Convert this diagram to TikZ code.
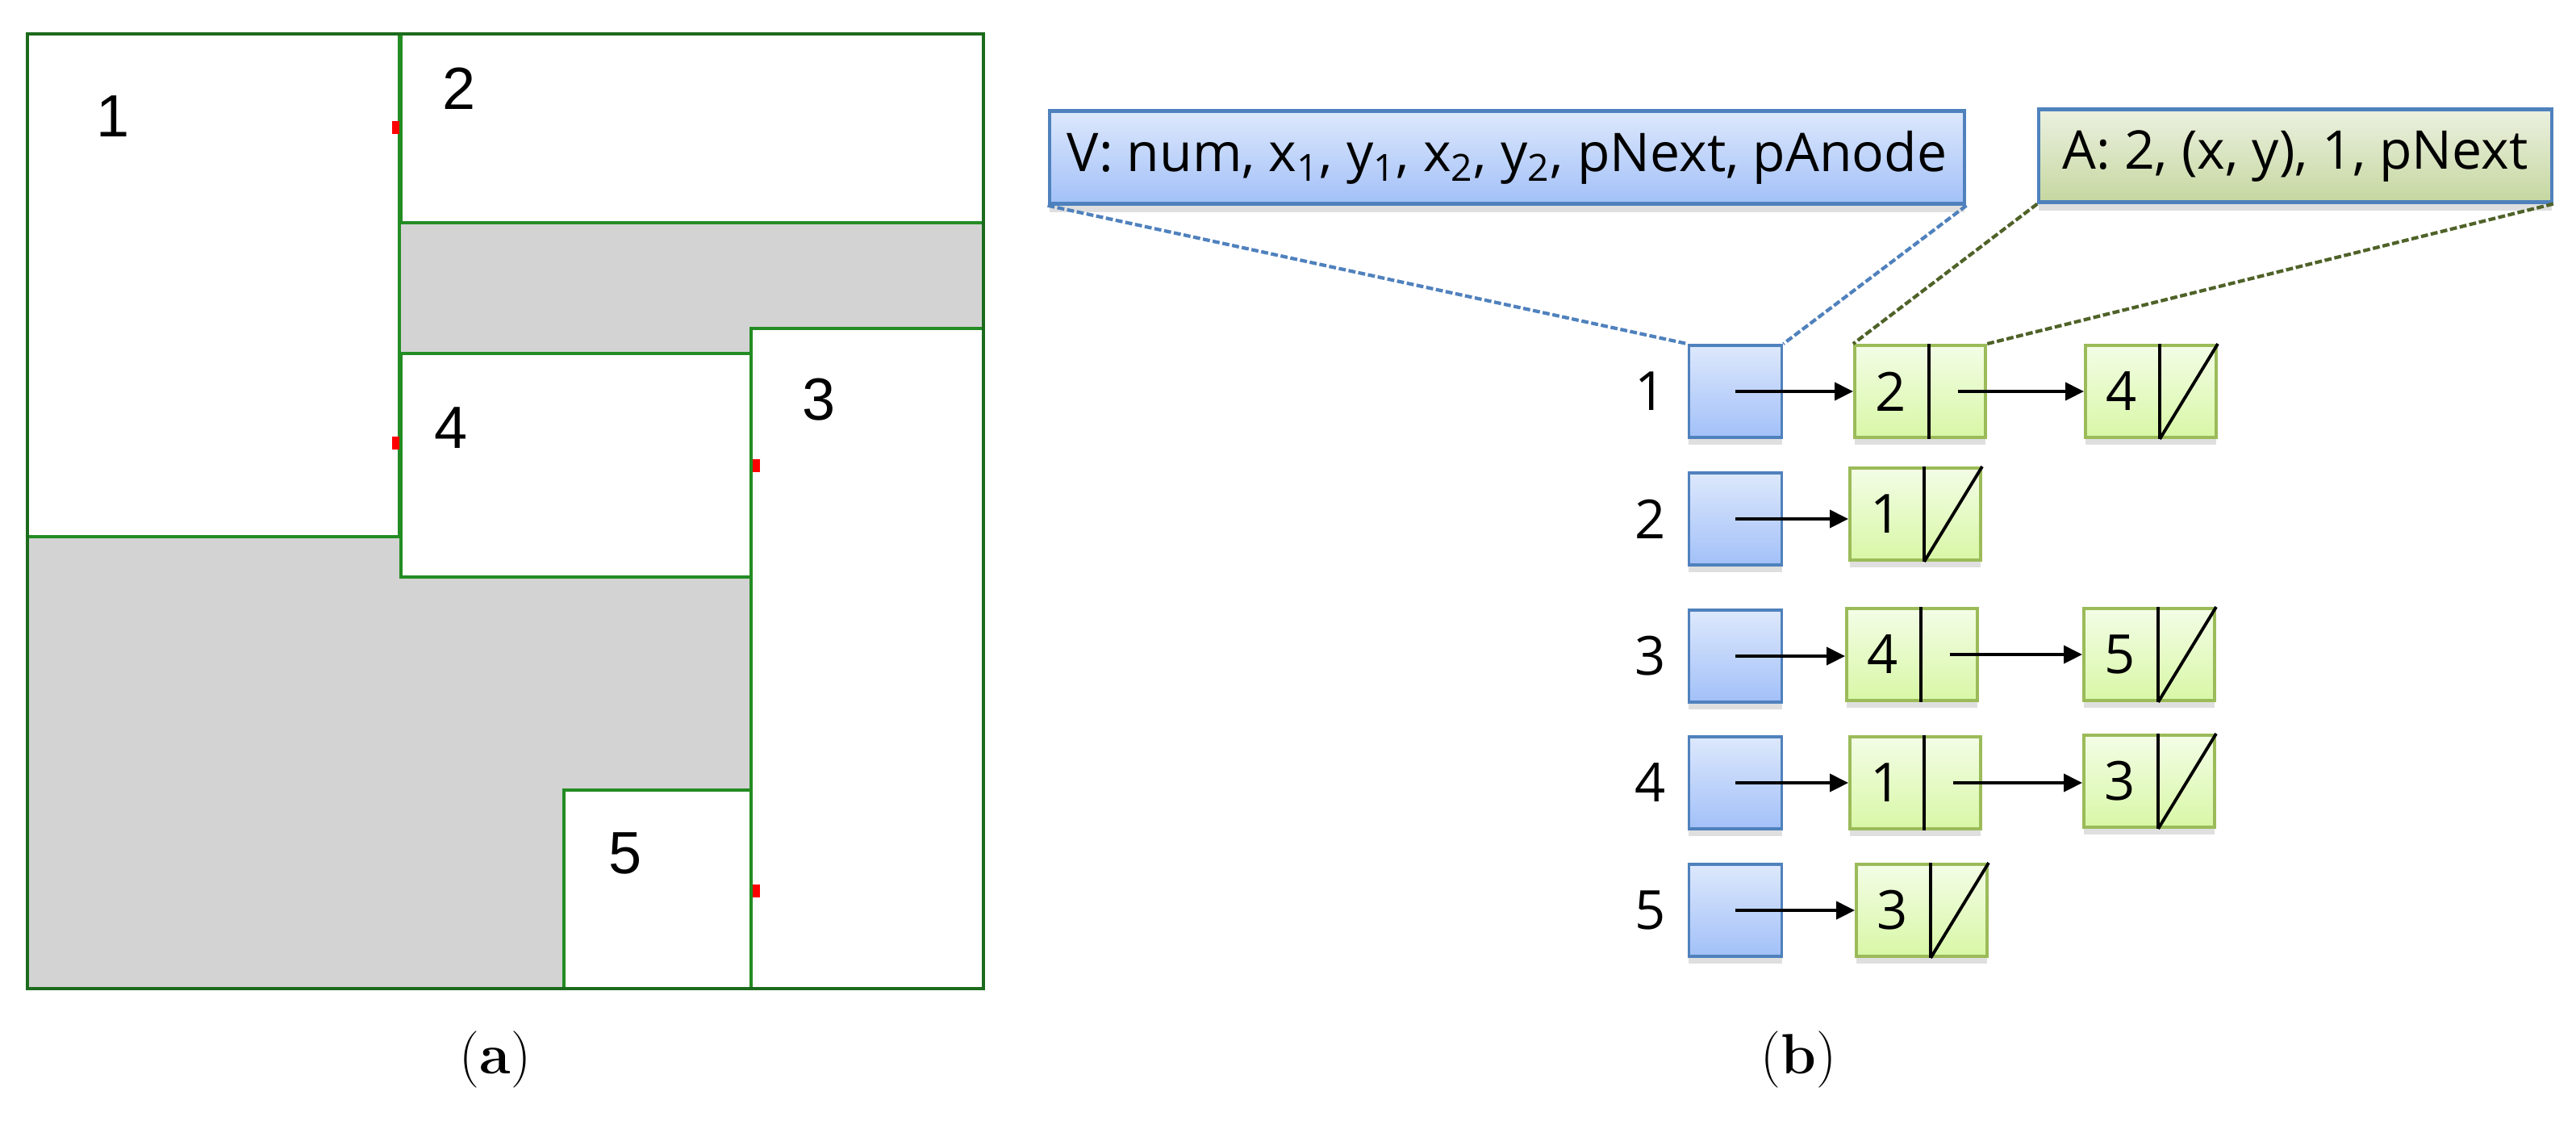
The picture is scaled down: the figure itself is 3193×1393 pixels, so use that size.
\documentclass[tikz,border=0pt]{standalone}
\usepackage{fontspec}
\usetikzlibrary{arrows.meta,positioning,calc,shadows}
\newfontfamily\roomfont{Liberation Sans}
\newfontfamily\listfont{Open Sans}
\definecolor{roomGreen}{HTML}{238C23}
\definecolor{wallGreen}{HTML}{1C6A1C}
\definecolor{voidGray}{HTML}{D3D3D3}
\definecolor{vBlue}{HTML}{4F81BD}
\definecolor{vTop}{HTML}{DDE8FC}
\definecolor{vBot}{HTML}{A2C0F8}
\definecolor{aEdge}{HTML}{9BBB59}
\definecolor{aTop}{HTML}{F3FDE6}
\definecolor{aBot}{HTML}{D8F7A6}
\definecolor{hTop}{HTML}{EBF1E0}
\definecolor{hBot}{HTML}{C6D7A0}
\definecolor{hDash}{HTML}{4F6228}

\begin{document}
\begin{tikzpicture}[x=0.01cm,y=-0.01cm,
  room/.style={draw=roomGreen,line width=1.1pt,fill=white},
  roomnum/.style={font=\roomfont\fontsize{21}{21}\selectfont,inner sep=0pt},
  vnum/.style={font=\listfont\fontsize{19}{19}\selectfont,inner sep=0pt},
  vbox/.style={draw=vBlue,line width=1.1pt,top color=vTop,bottom color=vBot,
    minimum width=1.15cm,minimum height=1.14cm,inner sep=0pt,
    drop shadow={shadow xshift=0pt,shadow yshift=-2.5pt,opacity=0.25}},
  adjbox/.style={draw=aEdge,line width=1.1pt,top color=aTop,bottom color=aBot,
    minimum width=1.62cm,minimum height=1.14cm,inner sep=0pt,
    drop shadow={shadow xshift=0pt,shadow yshift=-2.5pt,opacity=0.25}},
  adjnum/.style={vnum},
  divider/.style={black,line width=1.1pt},
  link/.style={black,line width=1.1pt,-{Triangle[length=0.23cm,width=0.22cm]}},
  head/.style={draw=vBlue,line width=1.2pt,inner sep=0pt,minimum height=1.15cm,
    font=\listfont\fontsize{18.8}{18.8}\selectfont,
    drop shadow={shadow xshift=0pt,shadow yshift=-3pt,opacity=0.25}},
  vdash/.style={vBlue,line width=1.2pt,dash pattern=on 2.5pt off 1pt},
  adash/.style={hDash,line width=1.2pt,dash pattern=on 2.5pt off 1pt},
  caption/.style={font=\fontsize{20}{20}\selectfont,inner sep=0pt}]
\useasboundingbox (0,0) rectangle (3193,1393);

% (a) floor plan
\fill[voidGray] (34,42) rectangle (1219,1225);
\draw[room] (34,42) rectangle (495,665);
\draw[room] (497,42) rectangle (1219,276);
\draw[room] (497,438) rectangle (931,715);
\draw[room] (931,407) rectangle (1219,1225);
\draw[room] (699,979) rectangle (931,1225);
\draw[wallGreen,line width=1.4pt] (34,42) rectangle (1219,1225);
\foreach \x/\y in {486/150,486/541,933/569,933/1096}
  \fill[red] (\x,\y) rectangle ++(9,16);
\foreach \i/\x/\y in {1/140/144,2/569/110,3/1015/495,4/559/530,5/775/1057}
  \node[roomnum] (r\i) at (\x,\y) {\i};

% (b) adjacency lists
\node[head,top color=vTop,bottom color=vBot,minimum width=11.34cm] (vh) at (1868,195)
  {V: num, x\textsubscript{1}, y\textsubscript{1}, x\textsubscript{2}, y\textsubscript{2}, pNext, pAnode};
\node[head,top color=hTop,bottom color=hBot,minimum width=6.35cm] (ah) at (2845,193)
  {A: 2, (x, y), 1, pNext};

\foreach \i/\y in {1/485,2/643,3/813,4/970,5/1128} {
  \node[vnum] (n\i) at (2046,\y) {\i};
  \node[vbox] (v\i) at (2151,\y) {};
}
\foreach \n/\x/\y/\t in {a11/2380/485/2,a12/2666/485/4,a21/2374/637/1,a31/2370/811/4,
    a32/2664/811/5,a41/2374/970/1,a42/2664/968/3,a51/2382/1128/3} {
  \node[adjbox] (\n) at (\x,\y) {};
  \node[adjnum] (t\n) at ([xshift=0.47cm]\n.west) {\t};
  \draw[divider] ([xshift=0.94cm]\n.north west) -- ([xshift=0.94cm]\n.south west);
}
% nil pointers
\foreach \n in {a12,a21,a32,a42,a51}
  \draw[divider] ([xshift=0.94cm]\n.south west) -- (\n.north east);

\foreach \v/\a in {v1/a11,v2/a21,v3/a31,v4/a41,v5/a51}
  \draw[link] (\v.center) -- (\v.center -| \a.west);
\foreach \a/\b in {a11/a12,a31/a32,a41/a42}
  \draw[link] ([xshift=1.3cm]\a.west) -- (\a.west -| \b.west);

\draw[vdash] (vh.south west) -- (v1.north west);
\draw[vdash] (vh.south east) -- (v1.north east);
\draw[adash] (ah.south west) -- (a11.north west);
\draw[adash] (ah.south east) -- (a11.north east);

\node[caption] (capa) at (614,1313) {(\textbf{a})};
\node[caption] (capb) at (2229,1313) {(\textbf{b})};
\end{tikzpicture}
\end{document}
